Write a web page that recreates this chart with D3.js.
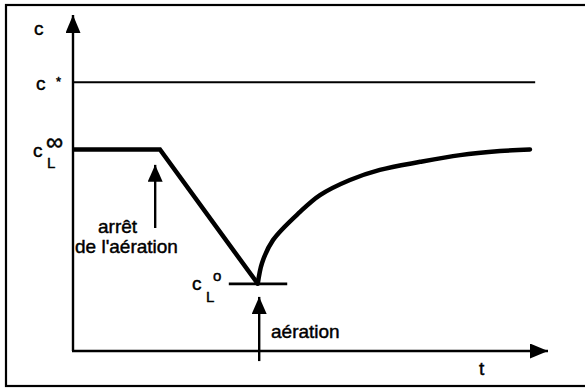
<!DOCTYPE html>
<html>
<head>
<meta charset="utf-8">
<script src="https://cdn.jsdelivr.net/npm/d3@7"></script>
<style>
  html, body { margin: 0; padding: 0; background: #fff; }
  svg { display: block; }
  text { font-family: "Liberation Sans", Arial, Helvetica, sans-serif; fill: #000; stroke: #000; stroke-width: 0.45px; }
</style>
</head>
<body>
<svg id="chart" width="585" height="388"></svg>
<script>
// Oxygen concentration c versus time t during a dynamic gassing-out test
const levels = { cStar: 8, cInf: 6, c0: 2 };
const axisMax = { t: 100, c: 10 };

// aeration on, constant c_L∞ until aeration is stopped
const plateauT = [0, 18.3];
const plateauC = [6, 6];
// linear drop while aeration is off
const dropT = [18.3, 38.9];
const dropC = [6, 2];
// recovery after aeration restarts
const riseT = [38.9, 39.8, 42.1, 47.8, 52.0, 58.3, 64.6, 73.1, 81.5, 89.9, 96.2];
const riseC = [2.0, 2.62, 3.30, 4.14, 4.64, 5.09, 5.39, 5.63, 5.83, 5.95, 6.0];

const cStarSpan = [0, 97.3];
const c0Span = [32.8, 45.1];
const stopArrow = { t: 17.3, from: 3.66, to: 5.54 };
const startArrow = { t: 39.2, from: -0.3, to: 1.61 };

const svg = d3.select("#chart");
const x = d3.scaleLinear().domain([0, axisMax.t]).range([73, 548]);
const y = d3.scaleLinear().domain([0, axisMax.c]).range([351, 15]);

// outer frame (right edge runs off the page)
svg.append("rect")
  .attr("x", 6).attr("y", 5).attr("width", 620).attr("height", 381)
  .attr("fill", "none").attr("stroke", "#000").attr("stroke-width", 2.2);

const defs = svg.append("defs");
function marker(id, len, half) {
  defs.append("marker")
    .attr("id", id)
    .attr("viewBox", `0 ${-half} ${len} ${2 * half}`)
    .attr("refX", len).attr("refY", 0)
    .attr("markerUnits", "userSpaceOnUse")
    .attr("markerWidth", len).attr("markerHeight", 2 * half)
    .attr("orient", "auto")
    .append("path")
    .attr("d", `M0,${-half}L${len},0L0,${half}Z`)
    .attr("fill", "#000");
}
marker("axisHead", 18, 7.5);
marker("smallHead", 17, 7.5);

// axes
svg.append("line")
  .attr("x1", x(0)).attr("y1", y(0)).attr("x2", x(0)).attr("y2", y(axisMax.c))
  .attr("stroke", "#000").attr("stroke-width", 2.4)
  .attr("marker-end", "url(#axisHead)");
svg.append("line")
  .attr("x1", x(0) - 1).attr("y1", y(0)).attr("x2", x(axisMax.t)).attr("y2", y(0))
  .attr("stroke", "#000").attr("stroke-width", 2.4)
  .attr("marker-end", "url(#axisHead)");

// saturation level c*
svg.append("line")
  .attr("x1", x(cStarSpan[0])).attr("x2", x(cStarSpan[1]))
  .attr("y1", y(levels.cStar)).attr("y2", y(levels.cStar))
  .attr("stroke", "#000").attr("stroke-width", 2);

// minimum level c_L°
svg.append("line")
  .attr("x1", x(c0Span[0])).attr("x2", x(c0Span[1]))
  .attr("y1", y(levels.c0)).attr("y2", y(levels.c0))
  .attr("stroke", "#000").attr("stroke-width", 2.8);

// concentration curve
const linePts = plateauT.map((t, i) => [t, plateauC[i]])
  .concat(dropT.slice(1).map((t, i) => [t, dropC[i + 1]]));
svg.append("path")
  .attr("d", d3.line().x(d => x(d[0])).y(d => y(d[1]))(linePts))
  .attr("fill", "none").attr("stroke", "#000").attr("stroke-width", 4.5)
  .attr("stroke-linejoin", "miter");
svg.append("path")
  .attr("d", d3.line().x(d => x(d[0])).y(d => y(d[1])).curve(d3.curveCatmullRom)(riseT.map((t, i) => [t, riseC[i]])))
  .attr("fill", "none").attr("stroke", "#000").attr("stroke-width", 4.5)
  .attr("stroke-linecap", "round");

// event arrows
[stopArrow, startArrow].forEach(a => {
  svg.append("line")
    .attr("x1", x(a.t)).attr("x2", x(a.t))
    .attr("y1", y(a.from)).attr("y2", y(a.to))
    .attr("stroke", "#000").attr("stroke-width", 2.4)
    .attr("marker-end", "url(#smallHead)");
});

// labels
const fs = 19;
function label(px, py, txt, size) {
  return svg.append("text").attr("x", px).attr("y", py)
    .attr("font-size", size || fs).text(txt);
}
label(34, 35, "c");

const cs = svg.append("text").attr("x", 36).attr("y", 90).attr("font-size", fs);
cs.append("tspan").text("c");
cs.append("tspan").attr("x", 56).attr("y", 86).attr("font-size", 13).text("*");

const ci = svg.append("text").attr("x", 33).attr("y", 157).attr("font-size", fs);
ci.append("tspan").text("c");
ci.append("tspan").attr("x", 46).attr("y", 150).attr("font-size", 24).text("∞");
ci.append("tspan").attr("x", 47).attr("y", 168).attr("font-size", 15).text("L");

const c0 = svg.append("text").attr("x", 192).attr("y", 290).attr("font-size", fs);
c0.append("tspan").text("c");
c0.append("tspan").attr("x", 213).attr("y", 281).attr("font-size", 15).text("o");
c0.append("tspan").attr("x", 206).attr("y", 302).attr("font-size", 15).text("L");

label(98, 233, "arrêt");
label(75, 253, "de l'aération");
label(271, 338, "aération");
label(479, 375, "t");
</script>
</body>
</html>
